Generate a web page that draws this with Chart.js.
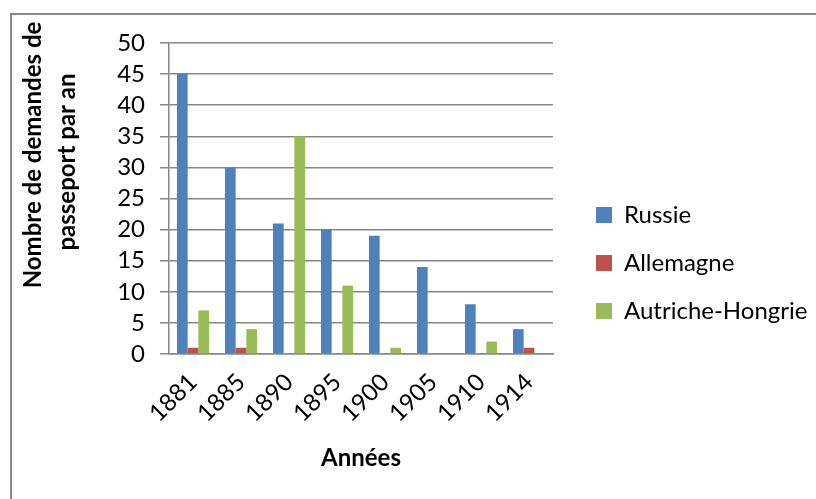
<!DOCTYPE html>
<html>
<head>
<meta charset="utf-8">
<script src="https://cdn.jsdelivr.net/npm/chart.js"></script>
<style>
  html, body { margin: 0; padding: 0; background: #fff; }
  #wrap { width: 816px; height: 499px; }
</style>
</head>
<body>
<div id="wrap"><canvas id="chart" width="816" height="499"></canvas></div>
<script>
// données
const annees = ["1881", "1885", "1890", "1895", "1900", "1905", "1910", "1914"];
const russie = [45, 30, 21, 20, 19, 14, 8, 4];
const allemagne = [1, 1, 0, 0, 0, 0, 0, 1];
const autricheHongrie = [7, 4, 35, 11, 1, 0, 2, 0];
const yMin = 0, yMax = 50, yPas = 5;
const titreAxeY = ["Nombre de demandes de", "passeport par an"];
const titreAxeX = "Années";

const gris = '#878787';
const police = 'Lato';
const taille = 24;

// cadre gris autour du graphique
const cadre = {
  id: 'cadre',
  beforeDraw(chart) {
    const ctx = chart.ctx;
    ctx.save();
    ctx.strokeStyle = gris;
    ctx.lineWidth = 2;
    ctx.strokeRect(11, 14, 900, 600);
    ctx.restore();
  }
};

// titre vertical sur deux lignes (décalé vers le haut comme dans Excel)
const titreY = {
  id: 'titreY',
  afterDraw(chart) {
    const ctx = chart.ctx;
    const xs = [33, 67];
    const ys = [155, 162];
    ctx.save();
    ctx.font = 'bold ' + taille + 'px ' + police;
    ctx.fillStyle = '#000';
    ctx.textAlign = 'center';
    ctx.textBaseline = 'middle';
    titreAxeY.forEach((ligne, i) => {
      ctx.save();
      ctx.translate(xs[i], ys[i]);
      ctx.rotate(-Math.PI / 2);
      ctx.fillText(ligne, 0, 0);
      ctx.restore();
    });
    ctx.restore();
  }
};

// légende : largeur fixe puis petit décalage
const legendePlace = {
  id: 'legendePlace',
  beforeLayout(chart) {
    const lg = chart.legend;
    if (lg && !lg._fixe) {
      const fit = lg.fit;
      lg.fit = function () { fit.call(this); this.width = 263; };
      lg._fixe = true;
    }
  },
  afterLayout(chart) {
    const lg = chart.legend;
    const dx = 19, dy = -8;
    lg.left += dx; lg.right += dx;
    lg.top += dy; lg.bottom += dy;
  }
};

new Chart(document.getElementById('chart'), {
  type: 'bar',
  data: {
    labels: annees,
    datasets: [
      { label: 'Russie', backgroundColor: '#4F81BD', data: russie },
      { label: 'Allemagne', backgroundColor: '#C0504D', data: allemagne },
      { label: 'Autriche-Hongrie', backgroundColor: '#9BBB59', data: autricheHongrie }
    ]
  },
  options: {
    responsive: false,
    animation: false,
    layout: { padding: { left: 0, top: 43, right: 0, bottom: 0 } },
    datasets: { bar: { barPercentage: 1, categoryPercentage: 0.667 } },
    plugins: {
      tooltip: { enabled: false },
      legend: {
        position: 'right',
        labels: {
          boxWidth: 16, boxHeight: 16, padding: 24,
          color: '#000',
          font: { family: police, size: taille }
        }
      }
    },
    scales: {
      x: {
        grid: { display: false },
        border: { display: true, color: gris, width: 1.5 },
        ticks: {
          color: '#000', padding: 6, autoSkip: false,
          minRotation: 45, maxRotation: 45,
          font: { family: police, size: taille }
        },
        title: {
          display: true, text: titreAxeX, color: '#000',
          font: { family: police, size: taille, weight: 'bold' },
          padding: { top: 0, bottom: 26 }
        },
        afterFit(scale) { scale.height = 145; }
      },
      y: {
        min: yMin, max: yMax,
        grid: { color: gris, lineWidth: 1.5, tickLength: 9, drawTicks: true },
        border: { display: true, color: gris, width: 1.5 },
        ticks: {
          stepSize: yPas, autoSkip: false, color: '#000', padding: 15,
          font: { family: police, size: taille }
        },
        afterFit(scale) { scale.width = 169; }
      }
    }
  },
  plugins: [cadre, titreY, legendePlace]
});
</script>
</body>
</html>
